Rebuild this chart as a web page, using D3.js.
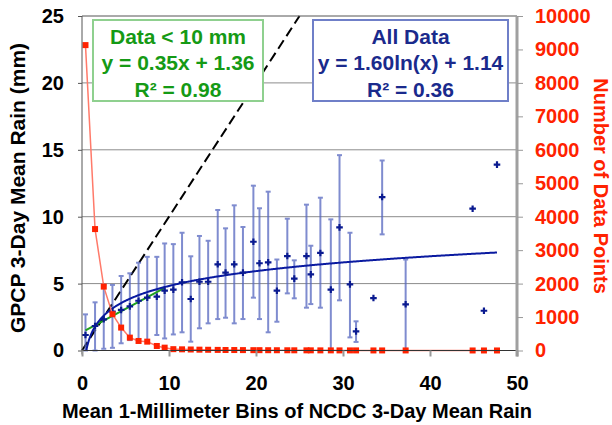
<!DOCTYPE html>
<meta charset="utf-8">
<style>
body { margin: 0; background: #fff; }
svg text { font-family: "Liberation Sans", Arial, sans-serif; font-weight: bold; }
.axis path { display: none; }
.axis text { font-size: 20px; fill: #000; }
.right text { fill: #ff2200; }
</style>
<svg class="canvas"></svg>
<script src="https://cdn.jsdelivr.net/npm/d3@7"></script>
<script>

// bin means (NCDC) and GPCP means
var binX = [0.4, 1.5, 2.5, 3.5, 4.5, 5.5, 6.5, 7.5, 8.6, 9.5, 10.5, 11.5, 12.5, 13.5, 14.5, 15.6, 16.5, 17.5, 18.5, 19.7,
	20.4, 21.4, 22.4, 23.6, 24.4, 25.8, 26.3, 27.4, 28.6, 29.6, 30.8, 31.5, 33.5, 34.5, 37.2, 44.9, 46.2, 47.7];
var gpcpY = [1.16, 1.83, 2.33, 2.9, 3.03, 3.3, 3.72, 3.95, 4.02, 4.47, 4.55, 5.1, 3.85, 5.14, 5.14, 6.44, 5.82, 6.44, 5.82, 8.13,
	6.52, 6.59, 4.47, 7.06, 5.37, 7.06, 5.69, 7.29, 4.55, 9.2, 4.94, 1.43, 3.92, 11.47, 3.45, 10.6, 2.97, 13.89];
var errHi = [2.7, 3.6, 4.9, 4.9, 5.57, 5.77, 6.56, 7.0, 7.0, 8.0, 7.95, 8.8, 7.04, 8.56, 8.2, 10.5, 9.13, 10.85, 9.23, 12.32,
	10.63, 11.87, 6.8, 9.85, 6.74, 10.9, 7.83, 11.42, 9.8, 14.6, 8.8, 2.18, null, 14.2, 6.8, null, null, null];
var errLo = [0, 0, 0.13, 0.2, 0.54, 0.78, 0.85, 0.7, 1.16, 0.9, 1.2, 1.36, 0.66, 1.66, 2.03, 2.35, 2.45, 2.03, 2.35, 3.95,
	2.35, 1.36, 2.15, 4.27, 3.9, 3.2, 3.47, 3.2, 0, 3.75, 0.98, 0.64, null, 8.68, 0, null, null, null];
var counts = [9130, 3630, 1910, 1085, 685, 385, 285, 265, 135, 85, 40, 35, 30, 25, 22, 18, 15, 14, 12, 10,
	10, 9, 8, 7, 6, 5, 5, 4, 4, 3, 3, 3, 2, 2, 2, 1, 1, 1];

// trendlines
var linA = 0.35, linB = 1.36, linMax = 9.5;
var logA = 1.60, logB = 1.14;

var greenText = ["Data < 10 mm", "y = 0.35x + 1.36", "R\u00b2 = 0.98"];
var blueText = ["All Data", "y = 1.60ln(x) + 1.14", "R\u00b2 = 0.36"];

var width = 612, height = 425;
var L = 82, R = 517, T = 16, B = 350.5;

var svg = d3.select(".canvas").attr("width", width).attr("height", height);

var x = d3.scaleLinear().domain([0, 50]).range([L, R]);
var y = d3.scaleLinear().domain([0, 25]).range([B, T]);
var yR = d3.scaleLinear().domain([0, 10000]).range([B, T]);

// grid
svg.append("g").selectAll("line").data([5, 10, 15, 20])
	.enter().append("line")
	.attr("x1", L).attr("x2", R)
	.attr("y1", function(d) { return y(d); }).attr("y2", function(d) { return y(d); })
	.attr("stroke", "#8c8c8c").attr("stroke-width", 1);

// 1:1 line
svg.append("line")
	.attr("x1", x(0)).attr("y1", y(0)).attr("x2", x(25)).attr("y2", y(25))
	.attr("stroke", "#000").attr("stroke-width", 2).attr("stroke-dasharray", "10,5");

var pts = binX.map(function(d, i) {
	return { x: d, y: gpcpY[i], hi: errHi[i], lo: errLo[i], n: counts[i] };
});

// error bars
var eb = svg.append("g").attr("stroke", "#5566c0").attr("stroke-width", 2).attr("opacity", 0.75)
	.selectAll("g").data(pts.filter(function(d) { return d.hi != null; }))
	.enter().append("g");
eb.append("line")
	.attr("x1", function(d) { return x(d.x); }).attr("x2", function(d) { return x(d.x); })
	.attr("y1", function(d) { return y(d.hi); }).attr("y2", function(d) { return y(d.lo); });
eb.append("line")
	.attr("x1", function(d) { return x(d.x) - 2.5; }).attr("x2", function(d) { return x(d.x) + 2.5; })
	.attr("y1", function(d) { return y(d.hi); }).attr("y2", function(d) { return y(d.hi); });
eb.append("line")
	.attr("x1", function(d) { return x(d.x) - 2.5; }).attr("x2", function(d) { return x(d.x) + 2.5; })
	.attr("y1", function(d) { return y(d.lo); }).attr("y2", function(d) { return y(d.lo); });

// trendlines
var line = d3.line().x(function(d) { return x(d[0]); }).y(function(d) { return y(d[1]); });
svg.append("path")
	.attr("d", line([binX[0], linMax].map(function(v) { return [v, linA * v + linB]; })))
	.attr("fill", "none").attr("stroke", "#1ea01e").attr("stroke-width", 2);
var logStart = Math.exp(-logB / logA);
svg.append("path")
	.attr("d", line(d3.range(logStart, binX[binX.length - 1], 0.1).concat([binX[binX.length - 1]])
		.map(function(v) { return [v, logA * Math.log(v) + logB]; })))
	.attr("fill", "none").attr("stroke", "#0a1aa0").attr("stroke-width", 2);

// GPCP points
svg.append("g").selectAll("path").data(pts)
	.enter().append("path")
	.attr("transform", function(d) { return "translate(" + x(d.x) + "," + y(d.y) + ")"; })
	.attr("d", d3.symbol().type(d3.symbolCross).size(24))
	.attr("fill", "#0a1a90");

// count series
var cline = d3.line().x(function(d) { return x(d.x); }).y(function(d) { return yR(d.n); });
svg.append("path").attr("d", cline(pts))
	.attr("fill", "none").attr("stroke", "#ff7a6a").attr("stroke-width", 1.5);
svg.append("g").selectAll("rect").data(pts)
	.enter().append("rect")
	.attr("x", function(d) { return x(d.x) - 3; })
	.attr("y", function(d) { return yR(d.n) - 3; })
	.attr("width", 6).attr("height", 6)
	.attr("fill", "#ff2200");

// frame
svg.append("line").attr("x1", L).attr("x2", R).attr("y1", T).attr("y2", T).attr("stroke", "#555");
svg.append("line").attr("x1", L).attr("x2", R).attr("y1", B).attr("y2", B).attr("stroke", "#333");
svg.append("line").attr("x1", L).attr("x2", L).attr("y1", T).attr("y2", B + 4).attr("stroke", "#555");
svg.append("line").attr("x1", R).attr("x2", R).attr("y1", T).attr("y2", B + 6).attr("stroke", "#a0a0a0").attr("stroke-width", 3);

// axes
var gl = svg.append("g").attr("class", "axis").attr("transform", "translate(" + L + ",0)")
	.call(d3.axisLeft(y).ticks(5).tickSize(4).tickPadding(14));
gl.selectAll("line").attr("stroke", "#555");

var gb = svg.append("g").attr("class", "axis").attr("transform", "translate(0," + B + ")")
	.call(d3.axisBottom(x).ticks(5).tickSize(6).tickPadding(19));
gb.selectAll("line").attr("stroke", "#999").attr("stroke-width", 2);

var gr = svg.append("g").attr("class", "axis right").attr("transform", "translate(" + R + ",0)")
	.call(d3.axisRight(yR).ticks(10).tickSize(6).tickPadding(12).tickFormat(d3.format("d")));
gr.selectAll("line").attr("stroke", "#999");

// titles
svg.append("text").attr("transform", "translate(25,188) rotate(-90)")
	.attr("text-anchor", "middle").attr("font-size", 21).text("GPCP 3-Day Mean Rain (mm)");
svg.append("text").attr("x", 297).attr("y", 418)
	.attr("text-anchor", "middle").attr("font-size", 20).text("Mean 1-Millimeter Bins of NCDC 3-Day Mean Rain");
svg.append("text").attr("transform", "translate(594,186) rotate(90)")
	.attr("text-anchor", "middle").attr("font-size", 20).attr("fill", "#ff2200").text("Number of Data Points");

// equation boxes
function box(x0, x1, stroke, color, lines) {
	var g = svg.append("g");
	g.append("rect").attr("x", x0).attr("y", 20).attr("width", x1 - x0).attr("height", 81)
		.attr("fill", "#fff").attr("stroke", stroke).attr("stroke-width", 2);
	g.selectAll("text").data(lines).enter().append("text")
		.attr("x", (x0 + x1) / 2)
		.attr("y", function(d, i) { return 43.5 + i * 26.6; })
		.attr("text-anchor", "middle").attr("font-size", 21).attr("fill", color)
		.text(function(d) { return d; });
}
box(93, 263, "#8fd08f", "#159a15", greenText);
box(313, 508, "#6f7fc8", "#1a2a8c", blueText);

</script>
